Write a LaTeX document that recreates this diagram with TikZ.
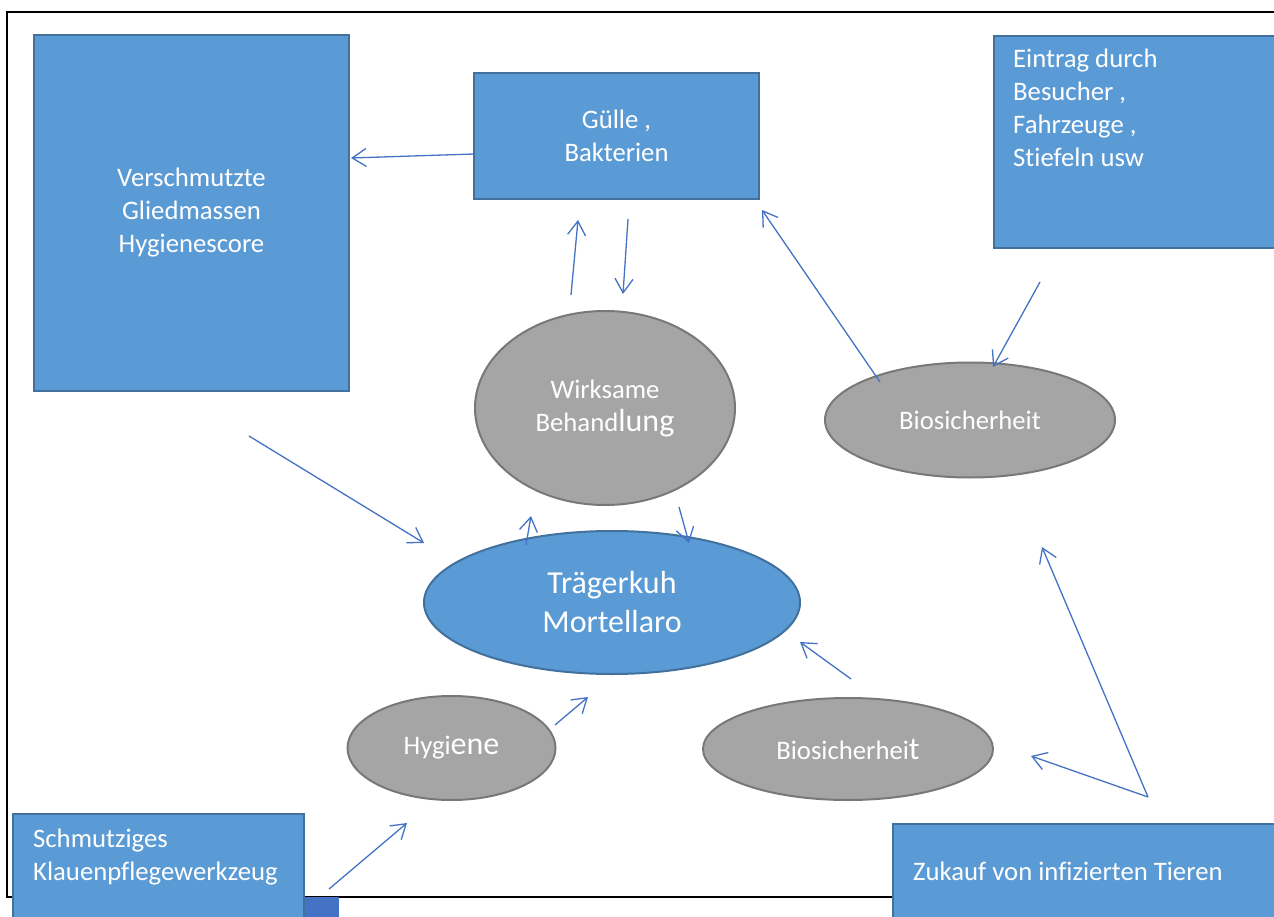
\documentclass[tikz,border=0pt]{standalone}
\usepackage{fontspec}
\setmainfont[Ligatures=CommonOff]{Carlito}
\usetikzlibrary{arrows.meta,shapes.geometric}
\definecolor{boxblue}{HTML}{5B9BD5}
\definecolor{boxedge}{HTML}{41719C}
\definecolor{darkblue}{HTML}{4472C4}
\definecolor{grayfill}{HTML}{A5A5A5}
\definecolor{grayedge}{HTML}{787878}
\definecolor{arrowblue}{HTML}{4472C4}
\newcommand\fsA{\fontsize{26.7}{33}\selectfont}
\newcommand\fsB{\fontsize{32}{39}\selectfont}
\begin{document}
\begin{tikzpicture}[x=1pt,y=-1pt,
  bluebox/.style={draw=boxedge, fill=boxblue, line width=2pt, rectangle, inner sep=0pt, text=white, font=\fsA, align=center},
  grayell/.style={draw=grayedge, fill=grayfill, line width=2pt, ellipse, inner sep=0pt, text=white, font=\fsA, align=center},
  blueell/.style={draw=boxedge, fill=boxblue, line width=2pt, ellipse, inner sep=0pt, text=white, font=\fsB, align=center},
  conn/.style={draw=arrowblue, line width=1.3pt, -{Straight Barb[length=14pt,width=18pt,line width=1.3pt]}},
  wtext/.style={text=white, font=\fsA, inner sep=0pt, align=left}]
\useasboundingbox (0,0) rectangle (1274,917);
\fill[white] (0,0) rectangle (1274,917);
% frame
\draw[line width=2pt] (7,12) rectangle (1300,897);
% dark blue piece
\node[fill=darkblue, draw=none, inner sep=0pt, minimum width=36pt, minimum height=30pt, anchor=north west] (dark) at (303,897) {};
% boxes
\node[bluebox, minimum width=315pt, minimum height=356pt] (verschm) at (191.5,213) {Verschmutzte\\Gliedmassen\\Hygienescore};
\node[bluebox, minimum width=285pt, minimum height=126pt] (guelle) at (616.5,136) {Gülle ,\\Bakterien};
\node[bluebox, minimum width=300pt, minimum height=212pt, anchor=north west] (eintrag) at (993,35) {};
\node[bluebox, minimum width=291pt, minimum height=130pt, anchor=north west] (schmutz) at (12,813) {};
\node[bluebox, minimum width=400pt, minimum height=130pt, anchor=north west] (zukauf) at (892,823) {};
\node[wtext, anchor=base west] (eintragtxt) at (1013,167) {Eintrag durch\\Besucher ,\\Fahrzeuge ,\\Stiefeln usw};
\node[wtext, anchor=base west] (schmutztxt) at (33,880) {Schmutziges\\Klauenpflegewerkzeug};
\node[wtext, anchor=base west] (zukauftxt) at (913,880) {Zukauf von infizierten Tieren};
% ellipses
\node[grayell, minimum width=260pt, minimum height=194pt] (wirk) at (605,408) {Wirksame\\Behand{\fsB lung}};
\node[grayell, minimum width=290pt, minimum height=115pt] (biotop) at (970,420) {Biosicherheit};
\node[grayell, minimum width=208pt, minimum height=104pt] (hyg) at (451.5,748) {Hygi{\fsB ene}};
\node[grayell, minimum width=290pt, minimum height=102pt] (biobot) at (848,749) {Biosicherhei{\fsB t}};
\node[blueell, minimum width=376pt, minimum height=143pt] (traeger) at (612,602.5) {Trägerkuh\\Mortellaro};
% arrow end points
\coordinate (a1s) at (474,154); \coordinate (a1e) at (351,158);
\coordinate (a2s) at (571,295); \coordinate (a2e) at (578,220);
\coordinate (a3s) at (628,219); \coordinate (a3e) at (623,294);
\coordinate (a4s) at (880,382); \coordinate (a4e) at (762,210);
\coordinate (a5s) at (1040,282); \coordinate (a5e) at (993,367);
\coordinate (a6s) at (249,436); \coordinate (a6e) at (424,543);
\coordinate (a7s) at (526,545); \coordinate (a7e) at (531,516);
\coordinate (a8s) at (679,507); \coordinate (a8e) at (689,543);
\coordinate (a9s) at (851,679); \coordinate (a9e) at (800,642);
\coordinate (a10s) at (555,725); \coordinate (a10e) at (588,697);
\coordinate (a11s) at (329,889); \coordinate (a11e) at (407,823);
\coordinate (fork) at (1148,797);
\coordinate (a12e) at (1031,756);
\coordinate (a13e) at (1042,547);
% connectors
\draw[conn] (a1s) -- (a1e);
\draw[conn] (a2s) -- (a2e);
\draw[conn] (a3s) -- (a3e);
\draw[conn] (a4s) -- (a4e);
\draw[conn] (a5s) -- (a5e);
\draw[conn] (a6s) -- (a6e);
\draw[conn] (a7s) -- (a7e);
\draw[conn] (a8s) -- (a8e);
\draw[conn] (a9s) -- (a9e);
\draw[conn] (a10s) -- (a10e);
\draw[conn] (a11s) -- (a11e);
\draw[conn] (fork) -- (a12e);
\draw[conn] (fork) -- (a13e);
\end{tikzpicture}
\end{document}
